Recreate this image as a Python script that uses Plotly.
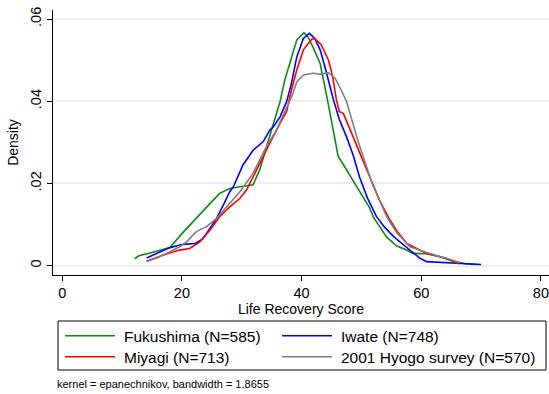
import plotly.graph_objects as go

FONT = "Liberation Sans, Arial, sans-serif"

# Series (Life Recovery Score vs kernel density)
fuk_x = [12.1, 12.8, 15.0, 18.0, 20.0, 22.2, 24.3, 26.3, 28.0, 29.7, 31.1, 31.9, 33.0, 34.1, 35.3,
         36.4, 37.2, 38.3, 39.2, 40.4, 41.1, 41.9, 43.1, 43.9, 44.7, 45.3, 46.1, 47.5, 48.6, 49.7,
         51.4, 52.0, 54.2, 55.9, 57.3, 58.6, 60.9, 63.1, 65.4, 67.6, 69.3]
fuk_y = [0.0017, 0.0024, 0.0032, 0.0044, 0.0078, 0.0111, 0.0145, 0.0176, 0.0188, 0.0192, 0.0195,
         0.0197, 0.0233, 0.0289, 0.0346, 0.0399, 0.0452, 0.0505, 0.0549, 0.0567, 0.0556, 0.0532,
         0.0492, 0.0435, 0.0379, 0.0330, 0.0267, 0.0234, 0.0208, 0.0180, 0.0140, 0.0118, 0.0070,
         0.0048, 0.0040, 0.0030, 0.0029, 0.0022, 0.0010, 0.0004, 0.0003]

iwa_x = [14.1, 16.0, 18.0, 20.2, 22.2, 23.5, 24.7, 25.8, 27.0, 28.0, 28.6, 29.4, 30.2, 31.9, 32.7,
         33.6, 34.7, 35.3, 36.4, 37.5, 38.3, 39.2, 40.3, 41.3, 42.2, 43.1, 43.9, 44.7, 45.3, 46.3,
         47.5, 48.6, 49.7, 51.0, 52.5, 53.8, 55.3, 58.1, 59.8, 60.9, 64.2, 69.3, 70.0]
iwa_y = [0.0019, 0.0031, 0.0044, 0.0052, 0.0054, 0.0065, 0.0090, 0.0115, 0.0150, 0.0180, 0.0192,
         0.0220, 0.0245, 0.0281, 0.0292, 0.0302, 0.0330, 0.0338, 0.0362, 0.0399, 0.0443, 0.0508,
         0.0553, 0.0565, 0.0553, 0.0525, 0.0484, 0.0435, 0.0405, 0.0356, 0.0314, 0.0270, 0.0215,
         0.0165, 0.0120, 0.0095, 0.0072, 0.0038, 0.0018, 0.0010, 0.0007, 0.0004, 0.0003]

miy_x = [14.1, 16.9, 19.6, 21.3, 23.0, 24.7, 26.3, 28.0, 29.7, 30.8, 31.9, 33.0, 34.7, 36.4, 37.5,
         38.3, 39.2, 40.3, 41.7, 42.2, 43.3, 44.5, 45.2, 45.8, 46.3, 47.0, 47.8, 49.2, 50.5, 51.8,
         53.0, 54.5, 55.9, 57.6, 60.9, 64.2, 65.9, 66.3]
miy_y = [0.0011, 0.0026, 0.0038, 0.0042, 0.0058, 0.0087, 0.0119, 0.0143, 0.0164, 0.0184, 0.0216,
         0.0249, 0.0298, 0.0346, 0.0375, 0.0427, 0.0476, 0.0525, 0.0551, 0.0553, 0.0537, 0.0500,
         0.0460, 0.0405, 0.0375, 0.0370, 0.0342, 0.0295, 0.0248, 0.0200, 0.0160, 0.0118, 0.0085,
         0.0054, 0.0030, 0.0018, 0.0007, 0.0005]

hyo_x = [14.1, 16.0, 18.0, 19.6, 20.8, 22.4, 24.1, 25.8, 28.0, 29.7, 31.9, 34.1, 35.8, 37.5, 38.3,
         39.2, 40.3, 41.9, 43.1, 44.5, 45.6, 46.7, 47.5, 48.4, 49.5, 50.7, 51.8, 53.0, 54.2, 55.9,
         58.1, 60.9, 64.2, 65.9, 66.5]
hyo_y = [0.0010, 0.0020, 0.0034, 0.0046, 0.0058, 0.0083, 0.0095, 0.0115, 0.0152, 0.0180, 0.0225,
         0.0289, 0.0330, 0.0387, 0.0410, 0.0447, 0.0464, 0.0468, 0.0466, 0.0469, 0.0456, 0.0425,
         0.0400, 0.0355, 0.0300, 0.0248, 0.0200, 0.0160, 0.0120, 0.0080, 0.0046, 0.0032, 0.0018,
         0.0010, 0.0008]

names = ["Fukushima (N=585)", "Iwate (N=748)", "Miyagi (N=713)", "2001 Hyogo survey (N=570)"]
colors = ["#0f8a0f", "#0000ff", "#ff0000", "#808080"]
xs_all = [fuk_x, iwa_x, miy_x, hyo_x]
ys_all = [fuk_y, iwa_y, miy_y, hyo_y]

x_ticks = [0, 20, 40, 60, 80]
y_ticks = [0, 0.02, 0.04, 0.06]
y_ticktext = ["0", ".02", ".04", ".06"]

# layout geometry (pixels)
W, H = 549, 394
ML, MR, MT, MB = 53, 0, 10, 119
PW, PH = W - ML - MR, H - MT - MB


def px(xp):
    return (xp - ML) / PW


def py(yp):
    return (H - MB - yp) / PH


fig = go.Figure()
for name, xs, ys, col in zip(names, xs_all, ys_all, colors):
    fig.add_trace(go.Scatter(x=xs, y=ys, mode="lines", name=name, showlegend=False,
                             line=dict(color=col, width=1.6)))

# legend drawn as a boxed 2x2 key (Stata style, long line samples)
shapes = [dict(type="rect", xref="paper", yref="paper", x0=px(58), x1=px(546),
               y0=py(370), y1=py(321), line=dict(color="black", width=1), fillcolor="white",
               layer="above")]
annotations = []
rows_y = [335.7, 356.7]
cols = [(65, 115, 124), (282, 332, 341)]
for i, (name, col) in enumerate(zip(names, colors)):
    r, c = divmod(i, 2)
    lx0, lx1, tx = cols[c]
    yy = rows_y[r]
    shapes.append(dict(type="line", xref="paper", yref="paper", x0=px(lx0), x1=px(lx1),
                       y0=py(yy), y1=py(yy), line=dict(color=col, width=1.6), layer="above"))
    annotations.append(dict(text=name, xref="paper", yref="paper", x=px(tx - 2), y=py(yy + 0.5),
                            xanchor="left", yanchor="middle", showarrow=False,
                            font=dict(size=15.5, family=FONT, color="black")))

annotations.append(dict(text="kernel = epanechnikov, bandwidth = 1.8655", xref="paper",
                        yref="paper", x=px(55), y=py(384.3), xanchor="left", yanchor="middle",
                        showarrow=False, font=dict(size=11, family=FONT, color="black")))

fig.update_layout(
    width=W, height=H,
    margin=dict(l=ML, r=MR, t=MT, b=MB),
    paper_bgcolor="white", plot_bgcolor="white",
    font=dict(family=FONT, size=14, color="black"),
    showlegend=False,
    shapes=shapes,
    annotations=annotations,
)
fig.update_xaxes(range=[-1.54, 81.35], tickvals=x_ticks, ticks="outside", ticklen=5,
                 tickcolor="black", showline=True, linecolor="black", linewidth=1,
                 showgrid=False, zeroline=False, tickfont=dict(size=14.5),
                 title=dict(text="Life Recovery Score", font=dict(size=14), standoff=0))
fig.update_yaxes(range=[-0.00226, 0.0622], tickvals=y_ticks, ticktext=y_ticktext, tickangle=-90,
                 ticks="outside", ticklen=5, tickcolor="black", showline=True, linecolor="black",
                 linewidth=1, showgrid=True, gridcolor="#e9f1f2", gridwidth=1.5, zeroline=False,
                 tickfont=dict(size=14.5),
                 title=dict(text="Density", font=dict(size=14), standoff=6))

fig.write_html("out.html")
